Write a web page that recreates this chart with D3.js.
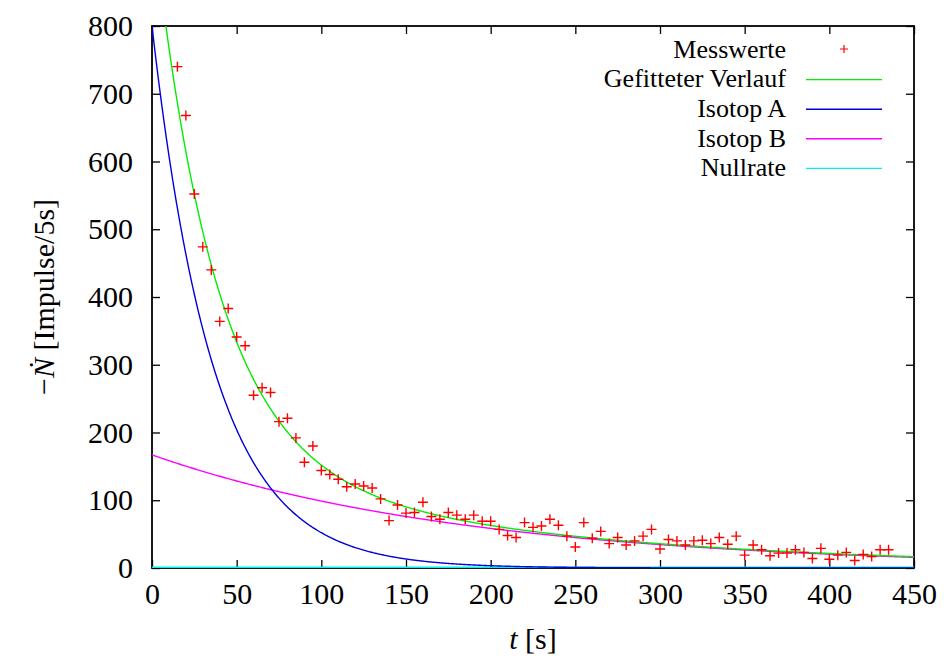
<!DOCTYPE html>
<html>
<head>
<meta charset="utf-8">
<script src="https://cdn.jsdelivr.net/npm/d3@7"></script>
<style>
body { margin: 0; background: #fff; }
text { font-family: "Liberation Serif", "Times New Roman", serif; }
</style>
</head>
<body>
<svg id="chart"></svg>
<script>
// ---------- data ----------
var times = [15, 20, 25, 30, 35, 40, 45, 50, 55, 60, 65, 70, 75, 80, 85, 90, 95, 100,
	105, 110, 115, 120, 125, 130, 135, 140, 145, 150, 155, 160, 165, 170, 175, 180,
	185, 190, 195, 200, 205, 210, 215, 220, 225, 230, 235, 240, 245, 250, 255, 260,
	265, 270, 275, 280, 285, 290, 295, 300, 305, 310, 315, 320, 325, 330, 335, 340,
	345, 350, 355, 360, 365, 370, 375, 380, 385, 390, 395, 400, 405, 410, 415, 420,
	425, 430, 435]
var counts = [740, 668, 552, 474, 440, 364, 383, 341, 328, 255, 266, 259, 216, 221, 192, 156, 180, 144,
	138, 131, 120, 124, 121, 118, 102, 70, 93, 81, 82, 97, 76, 72, 82, 78,
	72, 78, 69, 69, 57, 48, 45, 67, 60, 62, 72, 63, 47, 31, 67, 44,
	54, 36, 45, 34, 40, 47, 57, 28, 42, 40, 34, 40, 41, 36, 45, 35,
	47, 19, 34, 27, 18, 22, 22, 27, 23, 14, 29, 13, 19, 23, 11, 20,
	17, 27, 27]
var xTicks = [0, 50, 100, 150, 200, 250, 300, 350, 400, 450]
var yTicks = [0, 100, 200, 300, 400, 500, 600, 700, 800]
var legendNames = ["Messwerte", "Gefitteter Verlauf", "Isotop A", "Isotop B", "Nullrate"]
var legendColors = ["#ff0000", "#00ee00", "#0000dd", "#ff00ff", "#00eeee"]

// fit parameters: [N0, lambda]
var isotopA = [800, 0.02732]
var isotopB = [167, 0.00525]
var nullRate = 1

// ---------- layout ----------
var screen = {width: 944, height: 660}
var margins = {left: 152, right: 30, top: 26, bottom: 92}
var graph = {
	width: screen.width - margins.left - margins.right,
	height: screen.height - margins.top - margins.bottom
}

var svg = d3.select("#chart")
	.attr("width", screen.width)
	.attr("height", screen.height)

var xScale = d3.scaleLinear().domain([0, 450]).range([0, graph.width])
var yScale = d3.scaleLinear().domain([0, 800]).range([graph.height, 0])

var target = svg.append("g")
	.attr("transform", "translate(" + margins.left + "," + margins.top + ")")

svg.append("clipPath").attr("id", "clip")
	.append("rect")
	.attr("x", margins.left).attr("y", margins.top)
	.attr("width", graph.width).attr("height", graph.height)

// ---------- axes (gnuplot style, ticks inward, mirrored) ----------
var styleAxis = function (g) {
	g.select(".domain").remove()
	g.selectAll(".tick line").attr("stroke", "#000").attr("stroke-width", 1.3)
	g.selectAll(".tick text").attr("fill", "#000").style("font-size", "30px")
}

target.append("g")
	.attr("transform", "translate(0," + graph.height + ")")
	.call(d3.axisBottom(xScale).tickValues(xTicks).tickSize(-8).tickPadding(15))
	.call(styleAxis)
target.append("g")
	.call(d3.axisTop(xScale).tickValues(xTicks).tickSize(-8).tickFormat(""))
	.call(styleAxis)
target.append("g")
	.call(d3.axisLeft(yScale).tickValues(yTicks).tickSize(-8).tickPadding(19))
	.call(styleAxis)
target.append("g")
	.attr("transform", "translate(" + graph.width + ",0)")
	.call(d3.axisRight(yScale).tickValues(yTicks).tickSize(-8).tickFormat(""))
	.call(styleAxis)

// ---------- curves ----------
var tGrid = d3.range(0, 450.5, 0.5)
var curveA = function (t) { return isotopA[0] * Math.exp(-isotopA[1] * t) }
var curveB = function (t) { return isotopB[0] * Math.exp(-isotopB[1] * t) }
var curves = [
	{color: legendColors[4], f: function (t) { return nullRate }},
	{color: legendColors[3], f: curveB},
	{color: legendColors[2], f: curveA},
	{color: legendColors[1], f: function (t) { return curveA(t) + curveB(t) + nullRate }}
]

var plot = svg.append("g").attr("clip-path", "url(#clip)")
	.append("g")
	.attr("transform", "translate(" + margins.left + "," + margins.top + ")")

var line = function (f) {
	return d3.line()
		.x(function (t) { return xScale(t) })
		.y(function (t) { return yScale(f(t)) })
}

plot.selectAll("path.curve")
	.data(curves)
	.enter()
	.append("path")
	.attr("class", "curve")
	.attr("d", function (c) { return line(c.f)(tGrid) })
	.attr("fill", "none")
	.attr("stroke", function (c) { return c.color })
	.attr("stroke-width", 1.4)

// ---------- measured points ----------
var pts = times.map(function (t, i) { return {t: t, n: counts[i]} })
var cross = "M-5,0H5M0,-5V5"

plot.selectAll("path.pt")
	.data(pts)
	.enter()
	.append("path")
	.attr("class", "pt")
	.attr("transform", function (d) { return "translate(" + xScale(d.t) + "," + yScale(d.n) + ")" })
	.attr("d", cross)
	.attr("stroke", legendColors[0])
	.attr("stroke-width", 1.4)

// ---------- border ----------
target.append("rect")
	.attr("width", graph.width)
	.attr("height", graph.height)
	.attr("fill", "none")
	.attr("stroke", "#000")
	.attr("stroke-width", 1.8)

// ---------- legend ----------
var legend = svg.append("g").attr("transform", "translate(786,49)")
var rows = legend.selectAll("g")
	.data(legendNames)
	.enter()
	.append("g")
	.attr("transform", function (d, i) { return "translate(0," + (i * 29.6) + ")" })

rows.append("text")
	.attr("text-anchor", "end")
	.attr("dy", "0.34em")
	.style("font-size", "26px")
	.text(function (d) { return d })

rows.filter(function (d, i) { return i > 0 })
	.append("line")
	.attr("x1", 20).attr("x2", 96)
	.attr("y1", 1).attr("y2", 1)
	.attr("stroke", function (d) { return legendColors[legendNames.indexOf(d)] })
	.attr("stroke-width", 1.4)

rows.filter(function (d, i) { return i == 0 })
	.append("path")
	.attr("transform", "translate(58,0)")
	.attr("d", "M-4,0H4M0,-4V4")
	.attr("stroke", legendColors[0])
	.attr("stroke-width", 1.2)

// ---------- labels ----------
var xLabel = svg.append("text")
	.attr("x", margins.left + graph.width / 2)
	.attr("y", 649)
	.attr("text-anchor", "middle")
	.style("font-size", "30px")
xLabel.append("tspan").style("font-style", "italic").text("t")
xLabel.append("tspan").text(" [s]")

var yLabel = svg.append("text")
	.attr("transform", "translate(54," + (margins.top + graph.height / 2) + ") rotate(-90)")
	.attr("text-anchor", "middle")
	.style("font-size", "30px")
yLabel.append("tspan").text("\u2212")
yLabel.append("tspan").style("font-style", "italic").text("N\u0307")
yLabel.append("tspan").text(" [Impulse/5s]")
</script>
</body>
</html>
